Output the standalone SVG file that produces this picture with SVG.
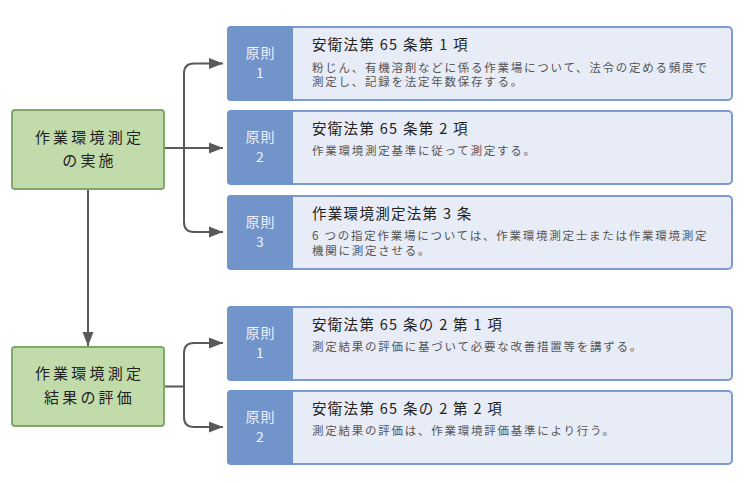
<svg xmlns="http://www.w3.org/2000/svg" width="756" height="483" viewBox="0 0 756 483">
<style>
.g rect{fill:#c1dcaa;stroke:#82a86b;stroke-width:2}
.gt{font-family:"Noto Sans CJK JP","Noto Sans",sans-serif;font-size:15px;letter-spacing:3.2px;fill:#222;text-anchor:middle}
.bl{fill:#e8ecf7;stroke:#7b9bd2;stroke-width:2}
.bd{fill:#7194ca}
.pt{font-family:"Noto Sans CJK JP","Noto Sans",sans-serif;font-size:14px;letter-spacing:1px;fill:#eef2fa;text-anchor:middle}
.tt{font-family:"Noto Sans CJK JP","Noto Sans",sans-serif;font-size:14.5px;letter-spacing:1.3px;fill:#222}
.dt{font-family:"Noto Sans CJK JP","Noto Sans",sans-serif;font-size:11.5px;letter-spacing:1.75px;fill:#555}
.c path{fill:none;stroke:#595959;stroke-width:2}
</style>
<defs>
<marker id="ah" markerUnits="userSpaceOnUse" markerWidth="14" markerHeight="12" viewBox="0 0 14 12" refX="14" refY="6" orient="auto">
<path d="M0,0.5 L14,6 L0,11.5 z" fill="#595959"/>
</marker>
</defs>
<g class="c" id="connectors">
<path d="M164,148 H223" marker-end="url(#ah)"/>
<path d="M184,148 V73.5 Q184,63.5 194,63.5 H223" marker-end="url(#ah)"/>
<path d="M184,148 V222 Q184,232 194,232 H223" marker-end="url(#ah)"/>
<path d="M88,189 V346" marker-end="url(#ah)"/>
<path d="M164,386.5 H184 V353 Q184,343 194,343 H223" marker-end="url(#ah)"/>
<path d="M184,386.5 V417 Q184,427 194,427 H223" marker-end="url(#ah)"/>
</g>
<g class="g" id="n-jisshi">
<rect x="12" y="110" width="152" height="79" rx="3"/>
<text class="gt" x="89.5" y="142.5">作業環境測定</text>
<text class="gt" x="89.5" y="165.5">の実施</text>
</g>
<g class="g" id="n-hyoka">
<rect x="12" y="347" width="152" height="79" rx="3"/>
<text class="gt" x="89.5" y="378.5">作業環境測定</text>
<text class="gt" x="89.5" y="402.5">結果の評価</text>
</g>
<g id="p1">
<rect class="bl" x="228" y="27" width="504" height="73" rx="4"/>
<path class="bd" d="M231,26 H293 V101 H231 Q227,101 227,97 V30 Q227,26 231,26 z"/>
<text class="pt" x="260.5" y="58">原則</text>
<text class="pt" x="260.5" y="78">1</text>
<text class="tt" x="312" y="50">安衛法第 65 条第 1 項</text>
<text class="dt" x="312" y="71.5">粉じん、有機溶剤などに係る作業場について、法令の定める頻度で</text>
<text class="dt" x="312" y="86">測定し、記録を法定年数保存する。</text>
</g>
<g id="p2">
<rect class="bl" x="228" y="111" width="504" height="73" rx="4"/>
<path class="bd" d="M231,110 H293 V185 H231 Q227,185 227,181 V114 Q227,110 231,110 z"/>
<text class="pt" x="260.5" y="142">原則</text>
<text class="pt" x="260.5" y="162">2</text>
<text class="tt" x="312" y="134">安衛法第 65 条第 2 項</text>
<text class="dt" x="312" y="155">作業環境測定基準に従って測定する。</text>
</g>
<g id="p3">
<rect class="bl" x="228" y="196" width="504" height="73" rx="4"/>
<path class="bd" d="M231,195 H293 V270 H231 Q227,270 227,266 V199 Q227,195 231,195 z"/>
<text class="pt" x="260.5" y="227">原則</text>
<text class="pt" x="260.5" y="247">3</text>
<text class="tt" x="312" y="219">作業環境測定法第 3 条</text>
<text class="dt" x="312" y="240">6 つの指定作業場については、作業環境測定士または作業環境測定</text>
<text class="dt" x="312" y="254.5">機関に測定させる。</text>
</g>
<g id="p4">
<rect class="bl" x="228" y="307" width="504" height="73" rx="4"/>
<path class="bd" d="M231,306 H293 V381 H231 Q227,381 227,377 V310 Q227,306 231,306 z"/>
<text class="pt" x="260.5" y="338">原則</text>
<text class="pt" x="260.5" y="358">1</text>
<text class="tt" x="312" y="330">安衛法第 65 条の 2 第 1 項</text>
<text class="dt" x="312" y="351">測定結果の評価に基づいて必要な改善措置等を講ずる。</text>
</g>
<g id="p5">
<rect class="bl" x="228" y="391" width="504" height="73" rx="4"/>
<path class="bd" d="M231,390 H293 V465 H231 Q227,465 227,461 V394 Q227,390 231,390 z"/>
<text class="pt" x="260.5" y="422">原則</text>
<text class="pt" x="260.5" y="442">2</text>
<text class="tt" x="312" y="414">安衛法第 65 条の 2 第 2 項</text>
<text class="dt" x="312" y="435">測定結果の評価は、作業環境評価基準により行う。</text>
</g>
</svg>
